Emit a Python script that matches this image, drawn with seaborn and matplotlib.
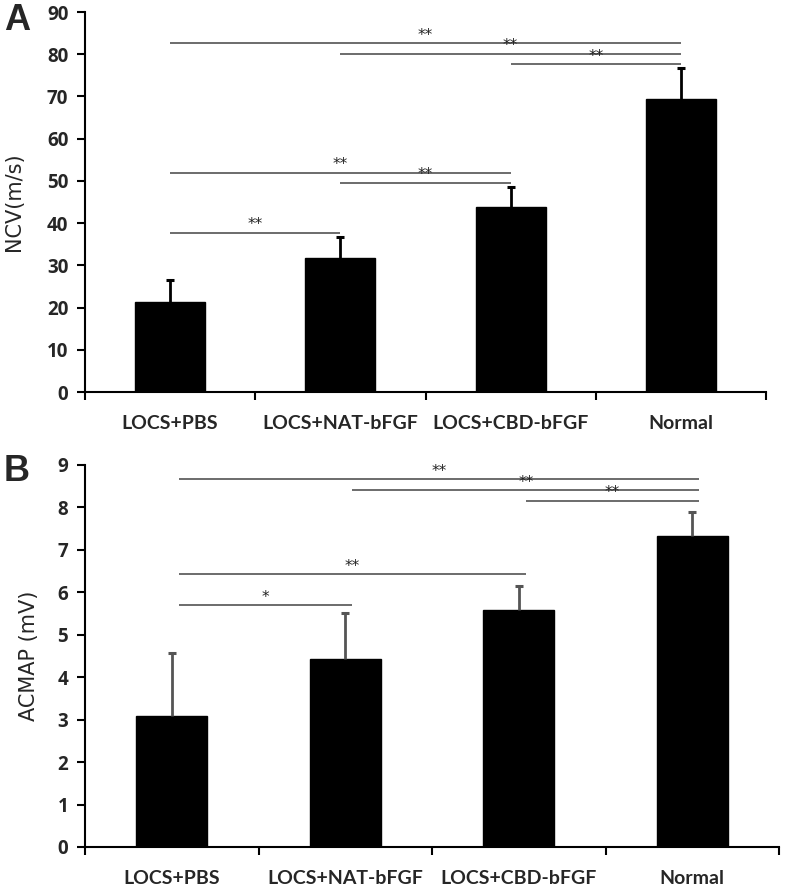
import matplotlib
matplotlib.use("Agg")
import matplotlib.pyplot as plt
import seaborn as sns
import pandas as pd
import numpy as np

categories = ["LOCS+PBS", "LOCS+NAT-bFGF", "LOCS+CBD-bFGF", "Normal"]

ncv_mean = [21.4, 31.7, 43.9, 69.3]
ncv_err = [5.1, 5.0, 4.7, 7.4]
ncv_ticks = [0, 10, 20, 30, 40, 50, 60, 70, 80, 90]
# (start group, end group, y level, label)
ncv_sig = [(0, 3, 82.6, "**"), (1, 3, 80.1, "**"), (2, 3, 77.7, "**"),
           (0, 2, 51.9, "**"), (1, 2, 49.6, "**"), (0, 1, 37.7, "**")]

acmap_mean = [3.09, 4.44, 5.58, 7.32]
acmap_err = [1.47, 1.08, 0.57, 0.58]
acmap_ticks = [0, 1, 2, 3, 4, 5, 6, 7, 8, 9]
acmap_sig = [(0, 3, 8.66, "**"), (1, 3, 8.40, "**"), (2, 3, 8.16, "**"),
             (0, 2, 6.43, "**"), (0, 1, 5.69, "*")]

sns.set_style("white")
plt.rcParams["font.family"] = ["Open Sans", "DejaVu Sans"]

fig = plt.figure(figsize=(7.92, 8.89), dpi=100)
axA = fig.add_axes([85 / 792, 1 - 392 / 889, (766 - 85) / 792, (392 - 12) / 889])
axB = fig.add_axes([85 / 792, 1 - 847 / 889, (779 - 85) / 792, (847 - 465) / 889])


def draw(ax, means, errs, ticks, sigs, ylabel, label_x, offset, ec):
    df = pd.DataFrame({"group": categories, "value": means})
    sns.barplot(data=df, x="group", y="value", ax=ax, color="black",
                width=0.41, errorbar=None, saturation=1, edgecolor="black")
    x = np.arange(len(categories))
    tops = np.array(means) + np.array(errs)
    ax.vlines(x, means, tops, colors=ec, lw=2.0, zorder=3)
    ax.plot(x, tops, ls="none", marker="_", markersize=6, mew=2.2,
            color=ec, zorder=3)
    ax.set_xlim(-0.5, 3.5)
    ax.set_ylim(ticks[0], ticks[-1])
    ax.set_yticks(ticks)
    ax.set_yticklabels([str(t) for t in ticks], fontsize=13.5, fontweight="bold",
                       family=["Open Sans", "DejaVu Sans"])
    ax.set_xticks(np.arange(-0.5, 4.0, 1.0))
    ax.set_xticklabels([])
    ax.set_xticks(x, minor=True)
    ax.set_xticklabels(categories, minor=True, fontsize=14, fontweight="bold",
                       family=["Lato", "DejaVu Sans"])
    ax.tick_params(axis="x", which="major", direction="out", length=6, width=1.5,
                   bottom=True, color="black")
    ax.tick_params(axis="x", which="minor", length=0, pad=16.5)
    ax.tick_params(axis="y", direction="out", length=6, width=1.5, left=True,
                   color="black", pad=6)
    ax.set_xlabel("")
    ax.set_ylabel(ylabel, fontsize=15, family="DejaVu Sans")
    ax.yaxis.set_label_coords(label_x, 0.5)
    for s in ["top", "right"]:
        ax.spines[s].set_visible(False)
    for s in ["left", "bottom"]:
        ax.spines[s].set_linewidth(1.5)
        ax.spines[s].set_color("black")
    span = ticks[-1] - ticks[0]
    for a, b, y, lab in sigs:
        ax.plot([a + offset, b + offset], [y, y], color="#444444", lw=1.1,
                solid_capstyle="butt", clip_on=False)
        ax.text((a + b) / 2 + offset, y + span * 0.001, lab, ha="center",
                va="bottom", fontsize=11, family="DejaVu Sans", color="#222222")


draw(axA, ncv_mean, ncv_err, ncv_ticks, ncv_sig, "NCV(m/s)", -0.09, 0.0, "black")
draw(axB, acmap_mean, acmap_err, acmap_ticks, acmap_sig, "ACMAP (mV)", -0.066, 0.04, "#555555")

fig.text(17 / 792, 1 - 20 / 889, "A", fontsize=26, fontweight="bold",
         family="Liberation Sans", ha="center", va="center")
fig.text(17 / 792, 1 - 472 / 889, "B", fontsize=26, fontweight="bold",
         family="Liberation Sans", ha="center", va="center")

fig.savefig("out.png", dpi=100)
